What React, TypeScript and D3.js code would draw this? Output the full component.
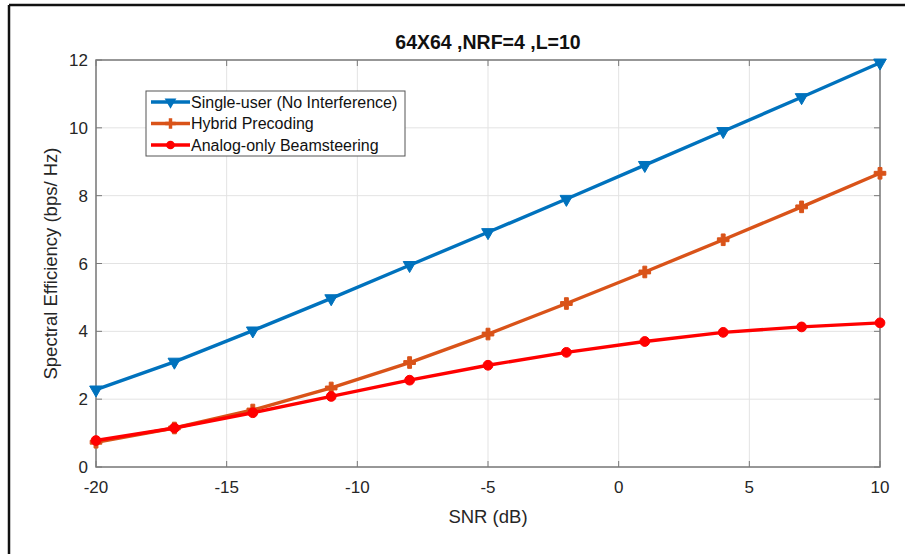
import React, { useRef, useEffect } from "react";
import * as d3 from "d3";

const snr = [-20, -17, -14, -11, -8, -5, -2, 1, 4, 7, 10];
const singleUser = [2.28, 3.1, 4.02, 4.97, 5.95, 6.92, 7.9, 8.9, 9.9, 10.9, 11.92];
const hybrid = [0.73, 1.15, 1.68, 2.33, 3.08, 3.92, 4.82, 5.75, 6.7, 7.67, 8.66];
const analog = [0.78, 1.15, 1.6, 2.08, 2.56, 3.0, 3.38, 3.7, 3.97, 4.13, 4.25];
const xTicks = [-20, -15, -10, -5, 0, 5, 10];
const yTicks = [0, 2, 4, 6, 8, 10, 12];
const seriesNames = ["Single-user (No Interference)", "Hybrid Precoding", "Analog-only Beamsteering"];

const App = () => {
  const svgRef = useRef<SVGSVGElement>(null);

  useEffect(() => {
    const svg = d3.select(svgRef.current);
    svg.selectAll("*").remove();
    const width = 909;
    const height = 554;
    const m = { top: 60, right: 29, bottom: 87, left: 96 };
    const font = "Arial, 'Liberation Sans', sans-serif";
    const axisColor = "#7a7a7a";

    svg.attr("width", width).attr("height", height);
    svg.append("rect").attr("width", width).attr("height", height).attr("fill", "#fff");

    // outer frame (cropped figure: only top and left edges)
    svg.append("line").attr("x1", 9).attr("x2", 905).attr("y1", 5).attr("y2", 5)
      .attr("stroke", "#111").attr("stroke-width", 2.5);
    svg.append("line").attr("x1", 9).attr("x2", 9).attr("y1", 5).attr("y2", height)
      .attr("stroke", "#111").attr("stroke-width", 2.5);

    const x = d3.scaleLinear().domain([-20, 10]).range([m.left, width - m.right]);
    const y = d3.scaleLinear().domain([0, 12]).range([height - m.bottom, m.top]);

    // grid
    const grid = svg.append("g");
    xTicks.forEach((t) => {
      grid.append("line").attr("x1", x(t)).attr("x2", x(t)).attr("y1", y(0)).attr("y2", y(12))
        .attr("stroke", "#e3e3e3").attr("stroke-width", 1);
    });
    yTicks.forEach((t) => {
      grid.append("line").attr("x1", x(-20)).attr("x2", x(10)).attr("y1", y(t)).attr("y2", y(t))
        .attr("stroke", "#e3e3e3").attr("stroke-width", 1);
    });

    // box
    svg.append("rect").attr("x", x(-20)).attr("y", y(12))
      .attr("width", x(10) - x(-20)).attr("height", y(0) - y(12))
      .attr("fill", "none").attr("stroke", axisColor).attr("stroke-width", 1.5);

    // ticks inward on all four sides
    const tl = 6;
    xTicks.forEach((t) => {
      svg.append("line").attr("x1", x(t)).attr("x2", x(t)).attr("y1", y(0)).attr("y2", y(0) - tl)
        .attr("stroke", axisColor);
      svg.append("line").attr("x1", x(t)).attr("x2", x(t)).attr("y1", y(12)).attr("y2", y(12) + tl)
        .attr("stroke", axisColor);
      svg.append("text").attr("x", x(t)).attr("y", y(0) + 26).attr("text-anchor", "middle")
        .attr("font-family", font).attr("font-size", 17).attr("fill", "#262626").text(t);
    });
    yTicks.forEach((t) => {
      svg.append("line").attr("x1", x(-20)).attr("x2", x(-20) + tl).attr("y1", y(t)).attr("y2", y(t))
        .attr("stroke", axisColor);
      svg.append("line").attr("x1", x(10)).attr("x2", x(10) - tl).attr("y1", y(t)).attr("y2", y(t))
        .attr("stroke", axisColor);
      svg.append("text").attr("x", x(-20) - 8).attr("y", y(t) + 6).attr("text-anchor", "end")
        .attr("font-family", font).attr("font-size", 17).attr("fill", "#262626").text(t);
    });

    // labels
    svg.append("text").attr("x", (x(-20) + x(10)) / 2).attr("y", 49).attr("text-anchor", "middle")
      .attr("font-family", font).attr("font-size", 19.5).attr("font-weight", "bold").attr("fill", "#111")
      .text("64X64 ,NRF=4 ,L=10");
    svg.append("text").attr("x", (x(-20) + x(10)) / 2).attr("y", 523).attr("text-anchor", "middle")
      .attr("font-family", font).attr("font-size", 18.5).attr("fill", "#262626").text("SNR (dB)");
    svg.append("text")
      .attr("transform", `translate(57,${(y(0) + y(12)) / 2}) rotate(-90)`)
      .attr("text-anchor", "middle")
      .attr("font-family", font).attr("font-size", 18.5).attr("fill", "#262626")
      .text("Spectral Efficiency (bps/ Hz)");

    const colors = ["#0072BD", "#D95319", "#FF0000"];
    const symbols = [d3.symbolTriangle, d3.symbolCross, d3.symbolCircle];
    const rot = [180, 0, 0];
    const all = [singleUser, hybrid, analog];
    const line = d3.line<number>().x((_, i) => x(snr[i])).y((d) => y(d));

    all.forEach((vals, s) => {
      svg.append("path").datum(vals).attr("d", line).attr("fill", "none")
        .attr("stroke", colors[s]).attr("stroke-width", 3.4).attr("stroke-linejoin", "round");
      svg.selectAll(`.mk${s}`).data(vals).enter().append("path")
        .attr("class", `mk${s}`)
        .attr("d", d3.symbol().type(symbols[s]).size(s === 0 ? 70 : 75))
        .attr("transform", (d, i) => `translate(${x(snr[i])},${y(d)}) rotate(${rot[s]})`)
        .attr("fill", colors[s]).attr("stroke", colors[s]).attr("stroke-width", 1);
    });

    // legend
    const lg = svg.append("g").attr("transform", "translate(146,91)");
    lg.append("rect").attr("width", 259).attr("height", 65).attr("fill", "#fff")
      .attr("stroke", "#555").attr("stroke-width", 1);
    seriesNames.forEach((name, s) => {
      const ly = 11 + s * 21.5;
      lg.append("line").attr("x1", 5).attr("x2", 44).attr("y1", ly).attr("y2", ly)
        .attr("stroke", colors[s]).attr("stroke-width", 3.4);
      lg.append("path").attr("d", d3.symbol().type(symbols[s]).size(60))
        .attr("transform", `translate(24.5,${ly}) rotate(${rot[s]})`)
        .attr("fill", colors[s]);
      lg.append("text").attr("x", 45).attr("y", ly + 5.5).attr("font-family", font)
        .attr("font-size", 16).attr("fill", "#111").text(name);
    });
  }, []);

  return <svg ref={svgRef} style={{ position: "absolute", left: 0, top: 0 }}></svg>;
};

export default App;
